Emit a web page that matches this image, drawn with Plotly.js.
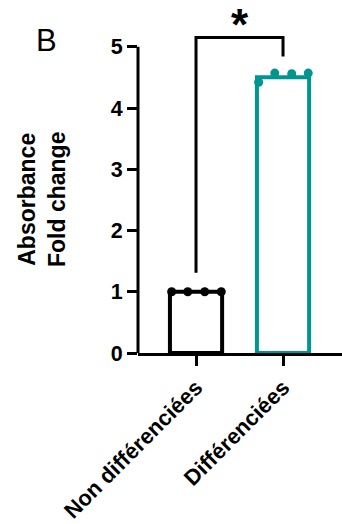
<!DOCTYPE html>
<html>
<head>
<meta charset="utf-8">
<script src="https://cdn.plot.ly/plotly-3.0.1.min.js"></script>
<style>
html,body{margin:0;padding:0;background:#fff;}
#chart{width:342px;height:524px;}
</style>
</head>
<body>
<div id="chart"></div>
<script>
// ---- data ----
const categories = ["Non différenciées", "Différenciées"];
const means = [1.0, 4.5];
const pointsNon = [1.0, 1.0, 1.0, 1.0];
const pointsDiff = [4.42, 4.57, 4.56, 4.57];
const yTicks = [0, 1, 2, 3, 4, 5];
const yTitle = ["Absorbance", "Fold change"];
const sigLabel = "*";
const panelLabel = "B";

// ---- style ----
const teal = "#00968F";
const offsets = [-0.28, -0.095, 0.1, 0.29];
const font = "Arial, 'Liberation Sans', sans-serif";

function jitterX(catIndex, n) {
  const xs = [];
  for (let i = 0; i < n; i++) xs.push(catIndex + offsets[i]);
  return xs;
}

const traces = [
  {
    type: "bar",
    x: [0, 1],
    y: means,
    width: 0.6,
    marker: { color: "white", line: { color: ["#000", teal], width: 4 } },
    hoverinfo: "skip"
  },
  {
    type: "scatter", mode: "markers",
    x: jitterX(0, pointsNon.length), y: pointsNon,
    marker: { color: "#000", size: 9 },
    cliponaxis: false
  },
  {
    type: "scatter", mode: "markers",
    x: jitterX(1, pointsDiff.length), y: pointsDiff,
    marker: { color: teal, size: 9 },
    cliponaxis: false
  }
];

const bracketLeftBottom = 1.31, bracketTop = 5.15, bracketRightBottom = 4.84;

const layout = {
  width: 342, height: 524,
  margin: { l: 138, r: 0, t: 10, b: 171 },
  paper_bgcolor: "white", plot_bgcolor: "white",
  showlegend: false,
  xaxis: {
    range: [-0.667, 1.678],
    tickvals: [0, 1],
    ticktext: categories,
    tickangle: -45,
    ticks: "outside", ticklen: 10, tickwidth: 3, tickcolor: "#000",
    showline: true, linewidth: 3, linecolor: "#000",
    showgrid: false, zeroline: false,
    tickfont: { family: font, size: 22, color: "#000", weight: "bold" },
    fixedrange: true
  },
  yaxis: {
    range: [0, 5.6],
    tickvals: yTicks,
    ticktext: yTicks.map(String),
    ticks: "outside", ticklen: 10, tickwidth: 3, tickcolor: "#000",
    showline: false, showgrid: false, zeroline: false,
    tickfont: { family: font, size: 21.5, color: "#000", weight: "bold" },
    fixedrange: true
  },
  shapes: [
    { type: "line", xref: "paper", yref: "y", x0: 0, x1: 0, y0: 0, y1: yTicks[yTicks.length - 1],
      line: { color: "#000", width: 3 } },
    { type: "path", xref: "x", yref: "y",
      path: `M 0,${bracketLeftBottom} L 0,${bracketTop} L 1,${bracketTop} L 1,${bracketRightBottom}`,
      line: { color: "#000", width: 3 } }
  ],
  annotations: [
    { text: sigLabel, xref: "x", yref: "y", x: 0.5, y: 5.36, showarrow: false,
      font: { family: font, size: 44, color: "#000", weight: "bold" }, yanchor: "middle" },
    { text: panelLabel, xref: "paper", yref: "paper", x: -0.51, y: 0.912, xanchor: "left", yanchor: "middle",
      showarrow: false, font: { family: font, size: 31, color: "#000" } },
    { text: yTitle.join("<br>"), xref: "paper", yref: "y", x: -0.47, y: 2.5, xanchor: "center", yanchor: "middle",
      textangle: -90, showarrow: false, font: { family: font, size: 23, color: "#000", weight: "bold" } }
  ]
};

Plotly.newPlot("chart", traces, layout, { displayModeBar: false, staticPlot: true });
</script>
</body>
</html>
